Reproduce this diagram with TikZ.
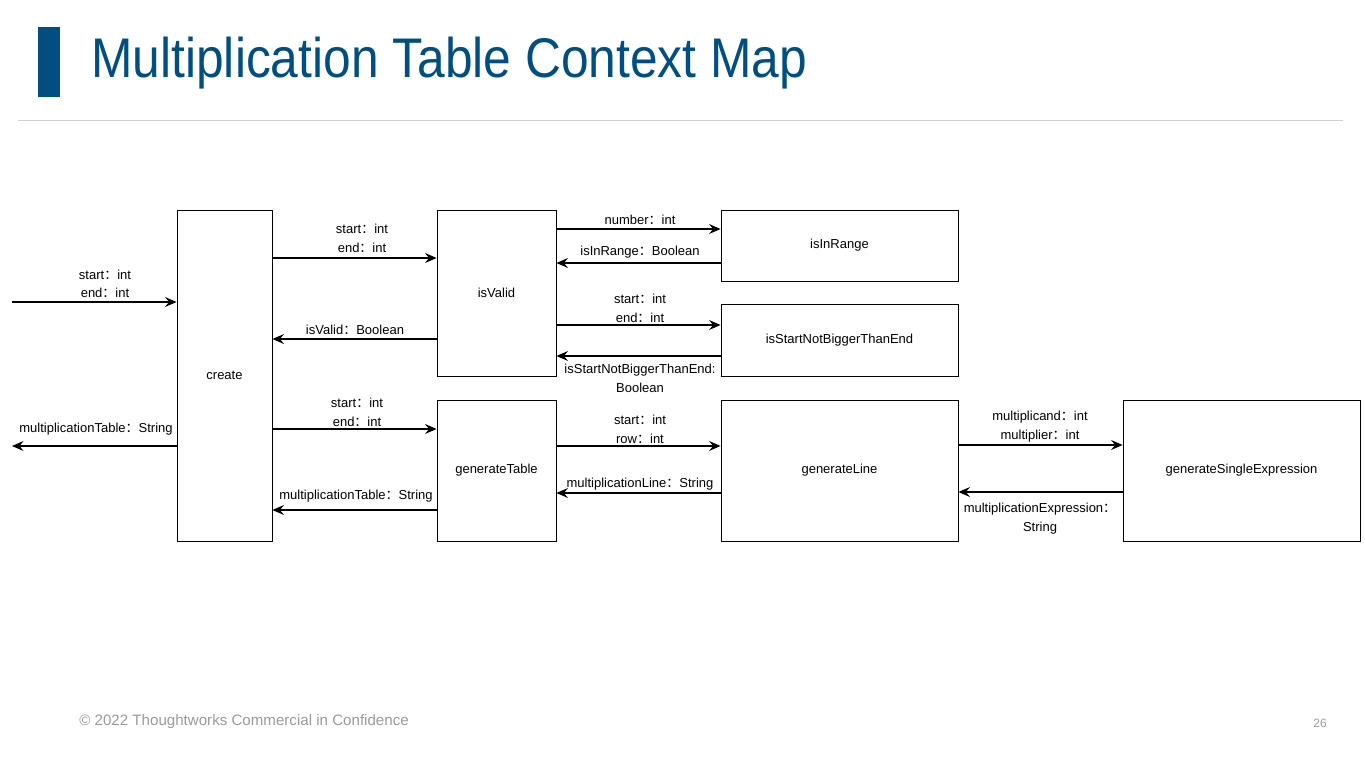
\documentclass[tikz,border=0pt]{standalone}
\usepackage{fontspec}
\setmainfont{Liberation Sans}
\newfontfamily\cjk{Noto Sans CJK SC}
\newfontfamily\titlefont[FakeStretch=0.89]{Liberation Sans}
\usetikzlibrary{positioning,arrows.meta}
\definecolor{twblue}{HTML}{004F80}
\definecolor{footgray}{HTML}{9A9A9A}
\newcommand{\fcolon}{{\cjk ：}}

\begin{document}
\begin{tikzpicture}[x=0.02cm, y=0.02cm,
    fn/.style={draw, line width=0.5pt, inner sep=0, font=\fontsize{7.4}{9}\selectfont},
    lbl/.style={inner sep=0, align=center, font=\fontsize{7.4}{10.8}\selectfont},
    flow/.style={line width=0.75pt, -{Stealth[length=6.5pt, width=5.6pt, inset=2.2pt]}}]
    \useasboundingbox (0,0) rectangle (1365,-757);

    % Header
    \fill[twblue] (38,-27) rectangle (60,-97);
    \node[anchor=base west, inner sep=0, text=twblue, font=\titlefont\fontsize{31.8}{36}\selectfont] (title) at (91,-78) {Multiplication Table Context Map};
    \draw[black!18, line width=0.5pt] (18,-120) -- (1343,-120);

    % Functions
    \node[fn, minimum width=1.9cm, minimum height=6.62cm] (create) at (224.5,-375.5) {create};
    \node[fn, minimum width=2.38cm, minimum height=3.32cm] (isValid) at (496.5,-293) {isValid};
    \node[fn, minimum width=4.74cm, minimum height=1.42cm] (isInRange) at (839.5,-245.5) {isInRange};
    \node[fn, minimum width=4.74cm, minimum height=1.44cm] (isOrder) at (839.5,-340) {isStartNotBiggerThanEnd};
    \node[fn, minimum width=2.38cm, minimum height=2.82cm] (genTable) at (496.5,-470.5) {generateTable};
    \node[fn, minimum width=4.74cm, minimum height=2.82cm] (genLine) at (839.5,-470.5) {generateLine};
    \node[fn, minimum width=4.74cm, minimum height=2.82cm] (genExpr) at (1241.5,-470.5) {generateSingleExpression};

    % Outside ends
    \coordinate (in) at (12,-302);
    \coordinate (out) at (12,-446);

    % Calls and returns
    \draw[flow] (in) -- (create.west |- in);
    \draw[flow] (create.west |- out) -- (out);
    \draw[flow] (create.east |- 0,-258) -- (isValid.west |- 0,-258);
    \draw[flow] (isValid.west |- 0,-339) -- (create.east |- 0,-339);
    \draw[flow] (create.east |- 0,-429) -- (genTable.west |- 0,-429);
    \draw[flow] (genTable.west |- 0,-510) -- (create.east |- 0,-510);
    \draw[flow] (isValid.east |- 0,-229) -- (isInRange.west |- 0,-229);
    \draw[flow] (isInRange.west |- 0,-263) -- (isValid.east |- 0,-263);
    \draw[flow] (isValid.east |- 0,-325) -- (isOrder.west |- 0,-325);
    \draw[flow] (isOrder.west |- 0,-356) -- (isValid.east |- 0,-356);
    \draw[flow] (genTable.east |- 0,-446) -- (genLine.west |- 0,-446);
    \draw[flow] (genLine.west |- 0,-493) -- (genTable.east |- 0,-493);
    \draw[flow] (genLine.east |- 0,-445) -- (genExpr.west |- 0,-445);
    \draw[flow] (genExpr.west |- 0,-492) -- (genLine.east |- 0,-492);

    % Labels
    \node[lbl, font=\fontsize{7.4}{10}\selectfont] (lIn) at (105,-284) {start\fcolon int\\end\fcolon int};
    \node[lbl] (lOut) at (96,-429) {multiplicationTable\fcolon String};
    \node[lbl] (lValidIn) at (362,-238) {start\fcolon int\\end\fcolon int};
    \node[lbl] (lValidOut) at (355,-330) {isValid\fcolon Boolean};
    \node[lbl] (lTableIn) at (357,-412) {start\fcolon int\\end\fcolon int};
    \node[lbl] (lTableOut) at (356,-496) {multiplicationTable\fcolon String};
    \node[lbl] (lRangeIn) at (640,-220) {number\fcolon int};
    \node[lbl] (lRangeOut) at (640,-252) {isInRange\fcolon Boolean};
    \node[lbl] (lOrderIn) at (640,-308) {start\fcolon int\\end\fcolon int};
    \node[lbl] (lOrderOut) at (640,-378) {isStartNotBiggerThanEnd:\\Boolean};
    \node[lbl] (lLineIn) at (640,-429) {start\fcolon int\\row\fcolon int};
    \node[lbl] (lLineOut) at (640,-484) {multiplicationLine\fcolon String};
    \node[lbl] (lExprIn) at (1040,-427) {multiplicand\fcolon int\\multiplier\fcolon int};
    \node[lbl] (lExprOut) at (1040,-519) {multiplicationExpression\fcolon\\String};

    % Footer
    \node[anchor=base west, inner sep=0, text=footgray, font=\fontsize{8.6}{10}\selectfont] (foot) at (79,-725) {© 2022 Thoughtworks Commercial in Confidence};
    \node[anchor=base east, inner sep=0, text=footgray, font=\fontsize{6.8}{8}\selectfont] (page) at (1327,-727) {26};
\end{tikzpicture}
\end{document}
